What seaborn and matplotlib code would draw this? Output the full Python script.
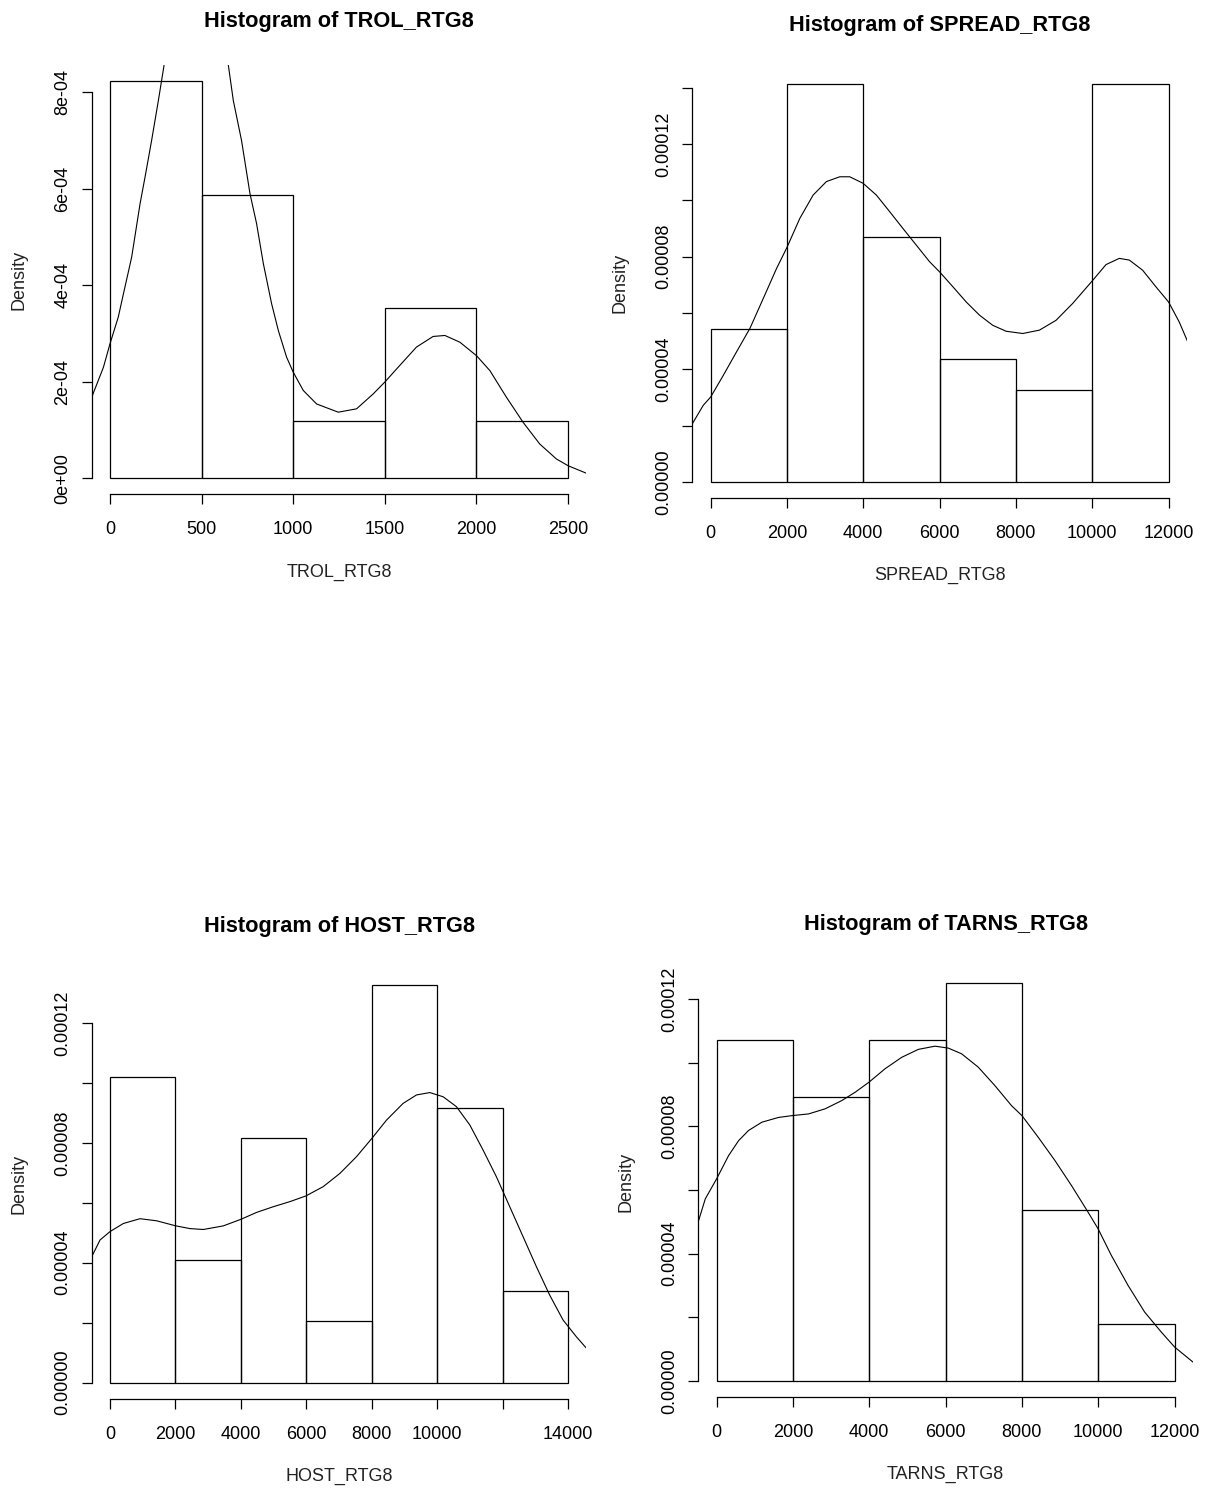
import numpy as np
import pandas as pd
import seaborn as sns
import matplotlib
matplotlib.use('Agg')
from matplotlib import pyplot as plt

sns.set_style('ticks')
plt.rcParams['font.family'] = ['Liberation Sans', 'DejaVu Sans']

# --- data ---
trol_edges = [0, 500, 1000, 1500, 2000, 2500]
trol_dens = [8.24e-4, 5.88e-4, 1.18e-4, 3.53e-4, 1.18e-4]
trol_kde_x = [-100, -36, 0, 45, 73, 118, 164, 191, 227, 264, 295, 380, 470, 560, 646, 673,
              718, 764, 800, 837, 882, 919, 964, 1000, 1055, 1128, 1246, 1346, 1437, 1499,
              1582, 1673, 1764, 1828, 1910, 2001, 2074, 2164, 2255, 2346, 2437, 2501, 2610]
trol_kde_y = [1.68e-4, 2.30e-4, 2.79e-4, 3.34e-4, 3.82e-4, 4.58e-4, 5.69e-4, 6.24e-4,
              7.00e-4, 7.83e-4, 8.56e-4, 9.9e-4, 1.04e-3, 9.9e-4, 8.56e-4, 7.83e-4, 7.00e-4,
              5.90e-4, 5.28e-4, 4.45e-4, 3.62e-4, 3.06e-4, 2.51e-4, 2.20e-4, 1.82e-4,
              1.54e-4, 1.37e-4, 1.44e-4, 1.75e-4, 1.99e-4, 2.34e-4, 2.72e-4, 2.94e-4,
              2.96e-4, 2.82e-4, 2.54e-4, 2.23e-4, 1.68e-4, 1.16e-4, 7.1e-5, 4.0e-5, 2.6e-5,
              9.0e-6]

spread_edges = [0, 2000, 4000, 6000, 8000, 10000, 12000]
spread_dens = [5.43e-5, 1.413e-4, 8.70e-5, 4.35e-5, 3.26e-5, 1.413e-4]
spread_kde_x = [-480, -192, 0, 331, 680, 1029, 1378, 1727, 1997, 2337, 2686, 3035, 3384,
                3645, 3994, 4343, 4692, 5041, 5390, 5738, 6000, 6349, 6698, 7047, 7395,
                7744, 8180, 8616, 9052, 9488, 9994, 10361, 10709, 10971, 11320, 11668,
                12000, 12279, 12497]
spread_kde_y = [2.06e-5, 2.72e-5, 3.01e-5, 3.78e-5, 4.62e-5, 5.45e-5, 6.51e-5, 7.58e-5,
                8.32e-5, 9.36e-5, 1.019e-4, 1.067e-4, 1.084e-4, 1.084e-4, 1.061e-4,
                1.019e-4, 9.60e-5, 9.00e-5, 8.41e-5, 7.82e-5, 7.46e-5, 6.93e-5, 6.39e-5,
                5.92e-5, 5.56e-5, 5.35e-5, 5.27e-5, 5.39e-5, 5.74e-5, 6.34e-5, 7.13e-5,
                7.72e-5, 7.94e-5, 7.88e-5, 7.52e-5, 6.93e-5, 6.39e-5, 5.68e-5, 4.99e-5]

host_edges = [0, 2000, 4000, 6000, 8000, 10000, 12000, 14000]
host_dens = [1.02e-4, 4.08e-5, 8.16e-5, 2.04e-5, 1.327e-4, 9.18e-5, 3.06e-5]
host_kde_x = [-560, -305, 0, 407, 916, 1426, 2016, 2444, 2851, 3462, 4002, 4480, 4990,
              5499, 5988, 6517, 7026, 7535, 8004, 8452, 8961, 9368, 9776, 10183, 10590,
              10998, 11405, 11812, 12220, 12627, 13034, 13441, 13849, 14256, 14562]
host_kde_y = [4.20e-5, 4.76e-5, 5.04e-5, 5.31e-5, 5.47e-5, 5.40e-5, 5.23e-5, 5.14e-5,
              5.11e-5, 5.23e-5, 5.45e-5, 5.68e-5, 5.87e-5, 6.04e-5, 6.23e-5, 6.54e-5,
              6.98e-5, 7.54e-5, 8.15e-5, 8.76e-5, 9.32e-5, 9.60e-5, 9.68e-5, 9.54e-5,
              9.21e-5, 8.60e-5, 7.76e-5, 6.87e-5, 5.87e-5, 4.87e-5, 3.87e-5, 2.92e-5,
              2.09e-5, 1.53e-5, 1.15e-5]

tarns_edges = [0, 2000, 4000, 6000, 8000, 10000, 12000]
tarns_dens = [1.071e-4, 8.93e-5, 1.071e-4, 1.25e-4, 5.36e-5, 1.79e-5]
tarns_kde_x = [-471, -297, 0, 314, 576, 837, 1186, 1622, 1997, 2407, 2843, 3280, 3628,
               3995, 4413, 4850, 5286, 5722, 6071, 6420, 6856, 7292, 7728, 7998, 8425,
               8862, 9298, 9734, 9995, 10344, 10780, 11216, 11653, 12002, 12481]
tarns_kde_y = [5.04e-5, 5.72e-5, 6.35e-5, 7.08e-5, 7.55e-5, 7.87e-5, 8.13e-5, 8.28e-5,
               8.34e-5, 8.39e-5, 8.55e-5, 8.81e-5, 9.07e-5, 9.39e-5, 9.81e-5, 1.017e-4,
               1.042e-4, 1.052e-4, 1.046e-4, 1.028e-4, 9.86e-5, 9.28e-5, 8.65e-5, 8.34e-5,
               7.66e-5, 6.93e-5, 6.14e-5, 5.30e-5, 4.78e-5, 3.94e-5, 3.00e-5, 2.16e-5,
               1.53e-5, 1.06e-5, 5.9e-6]

trol_yticks = [0, 2e-4, 4e-4, 6e-4, 8e-4]
trol_ylabels = ['0e+00', '2e-04', '4e-04', '6e-04', '8e-04']
small_yticks = [0, 2e-5, 4e-5, 6e-5, 8e-5, 1e-4, 1.2e-4, 1.4e-4]
small_ylabels = ['0.00000', '', '0.00004', '', '0.00008', '', '0.00012', '']
spread_xlabels = ['0', '2000', '4000', '6000', '8000', '10000', '12000']
host_xlabels = ['0', '2000', '4000', '6000', '8000', '10000', '', '14000']
trol_xlabels = ['0', '500', '1000', '1500', '2000', '2500']

W, H = 1205, 1490
fig = plt.figure(figsize=(W / 100, H / 100), dpi=100)
fig.patch.set_facecolor('white')

# plot regions in pixels: (left, bottom measured from top)
PW, PH = 494.6, 429.4
panels = [
    ('TROL_RTG8', (91.7, 494.2), trol_edges, trol_dens, trol_kde_x, trol_kde_y,
     trol_yticks, trol_ylabels, trol_xlabels),
    ('SPREAD_RTG8', (692.3, 497.7), spread_edges, spread_dens, spread_kde_x, spread_kde_y,
     small_yticks, small_ylabels, spread_xlabels),
    ('HOST_RTG8', (91.7, 1398.5), host_edges, host_dens, host_kde_x, host_kde_y,
     small_yticks, small_ylabels, host_xlabels),
    ('TARNS_RTG8', (698.3, 1396.7), tarns_edges, tarns_dens, tarns_kde_x, tarns_kde_y,
     small_yticks, small_ylabels, spread_xlabels),
]

for name, (lx, by), edges, dens, kx, ky, yt, yl, xl in panels:
    ax = fig.add_axes([lx / W, 1 - by / H, PW / W, PH / H])
    ax.set_facecolor('white')
    mids = [(a + b) / 2 for a, b in zip(edges[:-1], edges[1:])]
    hist_df = pd.DataFrame({'value': mids, 'density': dens})
    sns.histplot(data=hist_df, x='value', weights='density', bins=list(edges), stat='count',
                 fill=False, color='black', linewidth=0.9, ax=ax)
    kde_df = pd.DataFrame({'value': kx, 'density': ky})
    sns.lineplot(data=kde_df, x='value', y='density', color='black', linewidth=0.8,
                 sort=False, ax=ax)

    # R-style 4% padding
    span = edges[-1] - edges[0]
    ax.set_xlim(edges[0] - 0.04 * span, edges[-1] + 0.04 * span)
    top = max(dens)
    ax.set_ylim(-0.04 * top, 1.04 * top)

    # keep only the ticks inside the drawn range
    keep = [i for i, t in enumerate(yt) if t <= 1.04 * top]
    yt = [yt[i] for i in keep]
    yl = [yl[i] for i in keep]
    ax.set_xticks(edges)
    ax.set_xticklabels(xl)
    ax.set_yticks(yt)
    ax.set_yticklabels(yl)

    sns.despine(ax=ax)
    for s in ['left', 'bottom']:
        ax.spines[s].set_linewidth(0.9)
        ax.spines[s].set_color('black')
    ax.spines['left'].set_bounds(yt[0], yt[-1])
    ax.spines['bottom'].set_bounds(edges[0], edges[-1])

    ax.tick_params(axis='both', direction='out', length=7.5, width=0.9, colors='black',
                   labelsize=13)
    ax.tick_params(axis='x', pad=12)
    ax.tick_params(axis='y', pad=7, labelrotation=90)
    for lab in ax.get_yticklabels():
        lab.set_va('center')

    ax.set_xlabel('')
    ax.set_ylabel('')
    ax.text(0.5, 1.10, 'Histogram of ' + name, transform=ax.transAxes, ha='center',
            va='center', fontsize=15.7, fontweight='bold', color='black')
    ax.text(0.5, -0.182, name, transform=ax.transAxes, ha='center', va='center',
            fontsize=13, color='#222222')
    ax.text(-0.147, 0.5, 'Density', transform=ax.transAxes, ha='center', va='center',
            rotation=90, fontsize=13, color='#222222')

fig.savefig('out.png', dpi=100, facecolor='white')
